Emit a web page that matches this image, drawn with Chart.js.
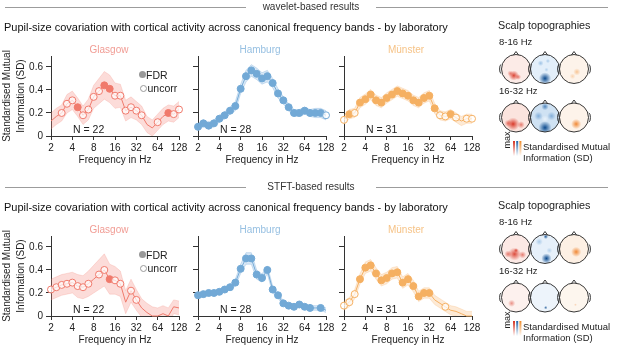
<!DOCTYPE html>
<html>
<head>
<meta charset="utf-8">
<script src="https://cdn.jsdelivr.net/npm/chart.js@4"></script>
<style>
  html, body { margin: 0; padding: 0; background: #fff; }
  #page { position: relative; width: 617px; height: 348px; overflow: hidden;
          font-family: "Liberation Sans", Arial, sans-serif; color: #222; }
  #page canvas { position: absolute; }
  .t { position: absolute; white-space: nowrap; line-height: 1; }
  .rule { position: absolute; height: 0; border-top: 1px solid #9c9c9c; }
  .dot { position: absolute; width: 7px; height: 7px; border-radius: 50%; box-sizing: border-box; }
</style>
</head>
<body>
<div id="page"></div>
<script>
// frequency axis (Hz), quarter-octave steps
const freqs = [2, 2.38, 2.83, 3.36, 4, 4.76, 5.66, 6.73, 8, 9.51, 11.31, 13.45, 16,
  19.03, 22.63, 26.91, 32, 38.05, 45.25, 53.82, 64, 76.11, 90.51, 107.63, 128];
const xTicks = [2, 4, 8, 16, 32, 64, 128];
const yLabelTicks = [0, 0.2, 0.4, 0.6];
const labs = ["Glasgow", "Hamburg", "Münster"];
const nSubjects = [22, 28, 31];
const sections = ["wavelet-based results", "STFT-based results"];
const bands = ["8-16 Hz", "16-32 Hz"];

// mean standardised MI, CI half width, significance (0 none, 1 uncorr, 2 FDR)
const glasgowWav = [0.13, 0.17, 0.20, 0.28, 0.31, 0.25, 0.18, 0.23, 0.34, 0.39, 0.44, 0.41, 0.35,
  0.35, 0.22, 0.25, 0.22, 0.18, 0.10, 0.07, 0.12, 0.17, 0.20, 0.19, 0.23];
const glasgowWavCi = [0.07, 0.07, 0.07, 0.08, 0.08, 0.08, 0.08, 0.09, 0.10, 0.11, 0.12, 0.12, 0.11,
  0.10, 0.09, 0.09, 0.08, 0.08, 0.07, 0.07, 0.07, 0.07, 0.07, 0.07, 0.07];
const glasgowWavSig = [0, 0, 1, 1, 1, 2, 1, 1, 1, 1, 2, 2, 1, 1, 1, 1, 1, 1, 0, 0, 1, 0, 2, 1, 1];

const hamburgWav = [0.08, 0.11, 0.09, 0.11, 0.15, 0.18, 0.22, 0.26, 0.41, 0.52, 0.57, 0.54, 0.50,
  0.52, 0.46, 0.37, 0.31, 0.25, 0.20, 0.20, 0.22, 0.20, 0.20, 0.20, 0.18];
const hamburgWavCi = [0.03, 0.03, 0.03, 0.03, 0.03, 0.03, 0.03, 0.04, 0.04, 0.05, 0.05, 0.05, 0.05,
  0.05, 0.04, 0.04, 0.03, 0.03, 0.03, 0.03, 0.03, 0.03, 0.04, 0.04, 0.04];
const hamburgWavSig = [2, 2, 2, 2, 2, 2, 2, 2, 2, 2, 2, 2, 2, 2, 2, 2, 2, 2, 2, 2, 2, 2, 2, 2, 1];

const munsterWav = [0.14, 0.19, 0.20, 0.29, 0.32, 0.36, 0.31, 0.29, 0.33, 0.36, 0.39, 0.37, 0.35,
  0.31, 0.29, 0.33, 0.35, 0.24, 0.18, 0.17, 0.19, 0.16, 0.13, 0.15, 0.15];
const munsterWavCi = [0.04, 0.04, 0.04, 0.045, 0.045, 0.045, 0.045, 0.045, 0.045, 0.045, 0.045, 0.045, 0.045,
  0.045, 0.045, 0.045, 0.045, 0.045, 0.04, 0.04, 0.04, 0.04, 0.04, 0.04, 0.04];
const munsterWavSig = [1, 2, 1, 2, 2, 2, 2, 2, 2, 2, 2, 2, 2, 2, 2, 2, 2, 2, 1, 1, 2, 1, 0, 1, 1];

const glasgowStft = [0.23, 0.25, 0.27, 0.28, 0.29, 0.26, 0.25, 0.28, 0.32, 0.36, 0.40, 0.32, 0.31,
  0.28, 0.12, 0.22, 0.14, 0.07, 0.03, 0.0, 0.0, 0.02, 0.0, 0.08, 0.07];
const glasgowStftCi = [0.09, 0.09, 0.09, 0.09, 0.09, 0.10, 0.10, 0.11, 0.12, 0.13, 0.14, 0.13, 0.12,
  0.11, 0.10, 0.10, 0.09, 0.08, 0.08, 0.08, 0.07, 0.07, 0.07, 0.06, 0.06];
const glasgowStftSig = [1, 1, 1, 1, 1, 1, 1, 1, 0, 1, 1, 2, 1, 1, 0, 1, 1, 0, 0, 0, 0, 0, 0, 0, 0];

const hamburgStft = [0.18, 0.19, 0.20, 0.20, 0.21, 0.23, 0.25, 0.29, 0.41, 0.50, 0.50, 0.36, 0.33,
  0.40, 0.23, 0.18, 0.11, 0.09, 0.08, 0.10, 0.08, 0.07, 0.07, 0.07, 0.05];
const hamburgStftCi = [0.02, 0.02, 0.02, 0.02, 0.02, 0.02, 0.025, 0.03, 0.04, 0.05, 0.05, 0.04, 0.035,
  0.035, 0.03, 0.025, 0.02, 0.02, 0.02, 0.02, 0.02, 0.02, 0.02, 0.02, 0.02];
const hamburgStftSig = [2, 2, 2, 2, 2, 2, 2, 2, 2, 2, 2, 2, 2, 2, 2, 2, 2, 2, 2, 2, 2, 2, 0, 2, 0];

const munsterStft = [0.09, 0.12, 0.19, 0.32, 0.42, 0.44, 0.37, 0.31, 0.33, 0.37, 0.38, 0.29, 0.32,
  0.26, 0.17, 0.20, 0.20, 0.14, 0.11, 0.08, 0.05, 0.04, 0.02, 0.0, 0.0];
const munsterStftCi = [0.04, 0.04, 0.04, 0.045, 0.05, 0.05, 0.05, 0.05, 0.05, 0.05, 0.05, 0.05, 0.05,
  0.05, 0.045, 0.045, 0.045, 0.04, 0.04, 0.04, 0.04, 0.04, 0.04, 0.04, 0.04];
const munsterStftSig = [1, 1, 1, 2, 2, 2, 2, 2, 2, 2, 2, 2, 2, 2, 2, 2, 2, 0, 0, 1, 0, 0, 0, 0, 0];

const panels = [
  [[glasgowWav, glasgowWavCi, glasgowWavSig], [hamburgWav, hamburgWavCi, hamburgWavSig], [munsterWav, munsterWavCi, munsterWavSig]],
  [[glasgowStft, glasgowStftCi, glasgowStftSig], [hamburgStft, hamburgStftCi, hamburgStftSig], [munsterStft, munsterStftCi, munsterStftSig]]
];

// styling
const FONT = '"Liberation Sans", Arial, sans-serif';
const lineCol = ["#f07a6c", "#72a9d6", "#f5b062"];
const bandCol = ["rgba(245,140,128,0.30)", "rgba(130,180,225,0.30)", "rgba(247,185,120,0.30)"];
const bandEdge = ["rgba(240,120,108,0.35)", "rgba(110,165,215,0.55)", "rgba(245,170,95,0.4)"];
const titleCol = ["#f19c94", "#97c0e2", "#f6c387"];
const plotLeft = [51, 198, 344];
const rowTop = [51, 231];
const plotW = 128, plotH = 85;

const page = document.getElementById("page");

function text(str, x, y, size, opts) {
  opts = opts || {};
  const d = document.createElement("div");
  d.className = "t";
  d.textContent = str;
  d.style.left = x + "px";
  d.style.top = y + "px";
  d.style.fontSize = size + "px";
  if (opts.color) d.style.color = opts.color;
  d.style.transform = opts.center ? "translate(-50%,-50%)" : "translateY(-50%)";
  page.appendChild(d);
  return d;
}

function rule(x1, x2, y) {
  const d = document.createElement("div");
  d.className = "rule";
  d.style.left = x1 + "px";
  d.style.width = (x2 - x1) + "px";
  d.style.top = y + "px";
  page.appendChild(d);
}

function makePanel(row, col) {
  const [mean, ci, sig] = panels[row][col];
  const yw = col === 0 ? 51 : 8;
  const padTop = 4, padRight = 12, xh = 31;
  const cv = document.createElement("canvas");
  cv.width = yw + plotW + padRight;
  cv.height = padTop + plotH + xh;
  cv.style.left = (plotLeft[col] - yw) + "px";
  cv.style.top = (rowTop[row] - padTop) + "px";
  page.appendChild(cv);

  const pts = v => freqs.map((f, i) => ({ x: f, y: v[i] }));
  const upper = mean.map((m, i) => m + ci[i]);
  const lower = mean.map((m, i) => m - ci[i]);

  new Chart(cv, {
    type: "line",
    data: {
      datasets: [
        {
          data: pts(mean),
          borderColor: lineCol[col],
          borderWidth: 1,
          clip: false,
          pointRadius: c => sig[c.dataIndex] ? 3.5 : 0,
          pointBackgroundColor: c => sig[c.dataIndex] === 2 ? lineCol[col] : "rgba(255,255,255,0.7)",
          pointBorderColor: lineCol[col],
          pointBorderWidth: 1,
          fill: false
        },
        { data: pts(upper), borderColor: bandEdge[col], borderWidth: 0.6, pointRadius: 0,
          backgroundColor: bandCol[col], fill: "+1" },
        { data: pts(lower), borderColor: bandEdge[col], borderWidth: 0.6, pointRadius: 0, fill: false }
      ]
    },
    options: {
      responsive: false,
      animation: false,
      layout: { padding: { top: padTop, right: padRight, left: 0, bottom: 0 } },
      plugins: { legend: { display: false }, tooltip: { enabled: false } },
      scales: {
        x: {
          type: "logarithmic",
          min: 2,
          max: 128,
          afterBuildTicks: s => { s.ticks = xTicks.map(v => ({ value: v })); },
          afterFit: s => { s.height = xh; },
          grid: { display: true, drawOnChartArea: false, drawTicks: true, tickLength: 4, color: "#333" },
          border: { display: true, color: "#333", width: 1 },
          ticks: { color: "#222", font: { family: FONT, size: 10 }, padding: 2, maxRotation: 0, autoSkip: false,
                   callback: v => String(v) },
          title: { display: true, text: "Frequency in Hz", color: "#222",
                   font: { family: FONT, size: 10 }, padding: { top: 0, bottom: 1 } }
        },
        y: {
          min: 0,
          max: 0.695,
          afterFit: s => { s.width = yw; },
          grid: { display: true, drawOnChartArea: false, drawTicks: true, tickLength: 5, color: "#333" },
          border: { display: true, color: "#333", width: 1 },
          ticks: {
            stepSize: 0.1,
            includeBounds: false,
            color: "#222",
            font: { family: FONT, size: 10 },
            padding: 3,
            callback: v => {
              if (col !== 0) return "";
              const r = Math.round(v * 10) / 10;
              return yLabelTicks.includes(r) ? String(r) : "";
            }
          },
          title: col === 0 ? { display: true, text: ["Standardised Mutual", "Information (SD)"], color: "#222",
                   font: { family: FONT, size: 10, lineHeight: 1.4 }, padding: { top: 0, bottom: 0 } }
                 : { display: false }
        }
      }
    }
  });

  // panel labels
  text(labs[col], plotLeft[col] + 58 + (col === 0 ? 0 : 4), rowTop[row] - 1, 10, { center: true, color: titleCol[col] });
  text("N = " + nSubjects[col], plotLeft[col] + 22, rowTop[row] + 78, 10.5);
}

// scalp topographies (illustrative head maps)
const headX = [516, 545, 574];
const headY = [69, 117.5];
const headR = 14.5;
const headMaps = [
  [
    [["#fcebe7", [[-0.15, 0.45, 0.35, "215,48,31", 0.9], [-0.4, 0.3, 0.2, "215,48,31", 0.5], [0.15, 0.55, 0.2, "215,48,31", 0.6]]],
     ["#e3effa", [[0, 0.65, 0.42, "11,74,142", 1], [-0.3, -0.4, 0.2, "110,165,215", 0.6], [0.2, -0.55, 0.15, "110,165,215", 0.5], [0.1, 0.05, 0.15, "110,165,215", 0.4]]],
     ["#fdf3ea", [[0.2, 0.2, 0.25, "244,165,90", 0.6], [-0.1, 0.5, 0.2, "244,165,90", 0.4]]]],
    [["#fbe4de", [[-0.2, 0.45, 0.45, "215,48,31", 0.95], [-0.55, 0.4, 0.25, "215,48,31", 0.6], [0.35, 0.5, 0.25, "215,48,31", 0.6]]],
     ["#cfe2f3", [[0, 0.7, 0.45, "11,74,142", 1], [0, -0.75, 0.25, "47,111,176", 0.8], [-0.45, -0.1, 0.3, "80,140,200", 0.6], [0.45, -0.1, 0.3, "80,140,200", 0.6], [0, 0.1, 0.25, "240,246,252", 0.8]]],
     ["#fdf3ea", [[0.15, 0.45, 0.35, "239,125,34", 0.9]]]]
  ],
  [
    [["#fce9e5", [[-0.1, 0.35, 0.45, "215,48,31", 0.85], [-0.55, 0.35, 0.25, "215,48,31", 0.6], [0.45, 0.4, 0.25, "215,48,31", 0.6], [0, 0.1, 0.15, "215,48,31", 0.8]]],
     ["#e6f0fa", [[0.1, 0.65, 0.35, "11,74,142", 1], [0.05, -0.85, 0.16, "11,74,142", 0.9], [-0.4, -0.5, 0.25, "110,165,215", 0.5], [0.3, 0.1, 0.2, "110,165,215", 0.4]]],
     ["#fdf0e4", [[0.15, 0.2, 0.35, "239,125,34", 0.9]]]],
    [["#fdf1ee", [[-0.3, 0.4, 0.25, "215,48,31", 0.5]]],
     ["#edf4fb", [[0.05, 0.7, 0.12, "11,74,142", 0.8]]],
     ["#fdf6ee", [[0.1, 0.5, 0.1, "239,125,34", 0.3]]]]
  ]
];

function drawHeads(ctx, sec) {
  const dy = sec * 180;
  for (let r = 0; r < 2; r++) {
    for (let c = 0; c < 3; c++) {
      const cx = headX[c], cy = headY[r] + dy, R = headR;
      const [bg, blobs] = headMaps[sec][r][c];
      ctx.save();
      ctx.beginPath();
      ctx.arc(cx, cy, R, 0, Math.PI * 2);
      ctx.clip();
      ctx.fillStyle = bg;
      ctx.fillRect(cx - R, cy - R, 2 * R, 2 * R);
      blobs.forEach(([bx, by, br, rgb, a]) => {
        const x = cx + bx * R, y = cy + by * R, rr = br * R;
        const g = ctx.createRadialGradient(x, y, 0, x, y, rr);
        g.addColorStop(0, "rgba(" + rgb + "," + a + ")");
        g.addColorStop(1, "rgba(" + rgb + ",0)");
        ctx.fillStyle = g;
        ctx.fillRect(x - rr, y - rr, 2 * rr, 2 * rr);
      });
      ctx.restore();
      ctx.strokeStyle = "#222";
      ctx.lineWidth = 0.9;
      ctx.beginPath();
      ctx.arc(cx, cy, R, 0, Math.PI * 2);
      ctx.stroke();
      // nose
      ctx.beginPath();
      ctx.moveTo(cx - 2.5, cy - R + 0.4);
      ctx.lineTo(cx, cy - R - 3);
      ctx.lineTo(cx + 2.5, cy - R + 0.4);
      ctx.stroke();
      // ears
      ctx.beginPath();
      ctx.ellipse(cx - R - 0.3, cy, 1.6, 4.5, 0, Math.PI * 0.5, Math.PI * 1.5);
      ctx.stroke();
      ctx.beginPath();
      ctx.ellipse(cx + R + 0.3, cy, 1.6, 4.5, 0, -Math.PI * 0.5, Math.PI * 0.5);
      ctx.stroke();
    }
    text(bands[r], 499, headY[r] - 27 + dy, 9.5);
  }
  // colour key
  const keyCols = ["215,48,31", "33,102,172", "240,140,42"];
  keyCols.forEach((rgb, i) => {
    const x = 513 + i * 3.2, y0 = 141 + dy, y1 = 156 + dy;
    const g = ctx.createLinearGradient(0, y0, 0, y1);
    g.addColorStop(0, "rgba(" + rgb + ",1)");
    g.addColorStop(1, "rgba(" + rgb + ",0)");
    ctx.fillStyle = g;
    ctx.fillRect(x, y0, 2, y1 - y0);
  });
  ctx.save();
  ctx.translate(507.5, 140 + dy);
  ctx.rotate(-Math.PI / 2);
  ctx.fillStyle = "#222";
  ctx.font = "9px " + FONT;
  ctx.textAlign = "center";
  ctx.textBaseline = "middle";
  ctx.fillText("max", 0, 0);
  ctx.restore();
  text("Standardised Mutual", 523, 146.5 + dy, 9.5);
  text("Information (SD)", 523, 158 + dy, 9.5);
  text("Scalp topographies", 498, 25 + dy, 10.8);
}

const headCv = document.createElement("canvas");
headCv.width = 617;
headCv.height = 348;
headCv.style.left = "0px";
headCv.style.top = "0px";
page.appendChild(headCv);
const hctx = headCv.getContext("2d");

for (let s = 0; s < 2; s++) {
  const dy = s * 180;
  rule(5, 246, 7 + dy);
  rule(376, 608, 7 + dy);
  text(sections[s], 311, 7 + dy, 10, { center: true, color: "#333" });
  text("Pupil-size covariation with cortical activity across canonical frequency bands - by laboratory", 4, 27 + dy, 11, { color: "#111" });
  for (let c = 0; c < 3; c++) makePanel(s, c);
  drawHeads(hctx, s);

  // significance key in the Glasgow panel
  const k1 = document.createElement("div");
  k1.className = "dot";
  k1.style.left = "138.5px"; k1.style.top = (71 + dy) + "px";
  k1.style.background = "#999";
  page.appendChild(k1);
  const k2 = document.createElement("div");
  k2.className = "dot";
  k2.style.left = "139.5px"; k2.style.top = (84.5 + dy) + "px";
  k2.style.border = "1px solid #999";
  page.appendChild(k2);
  text("FDR", 146, 74.5 + dy, 10.5);
  text("uncorr", 147.5, 88 + dy, 10.5);
}
</script>
</body>
</html>
